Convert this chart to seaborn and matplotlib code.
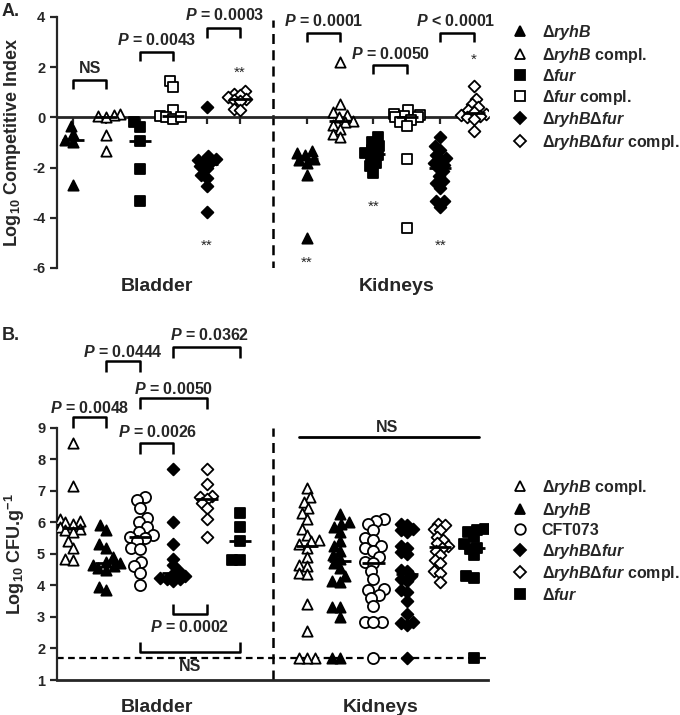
import numpy as np
import pandas as pd
import matplotlib
matplotlib.use("Agg")
import matplotlib.pyplot as plt
import seaborn as sns
from matplotlib.lines import Line2D

sns.set_theme(style="ticks")
plt.rcParams["font.family"] = ["Liberation Sans", "DejaVu Sans"]
plt.rcParams["font.weight"] = "bold"
plt.rcParams["mathtext.fontset"] = "custom"
plt.rcParams["mathtext.rm"] = "Liberation Sans:bold"
plt.rcParams["mathtext.it"] = "Liberation Sans:italic:bold"
plt.rcParams["mathtext.bf"] = "Liberation Sans:bold"
plt.rcParams["axes.linewidth"] = 1.6

# ---------------- data: panel A (log10 competitive index) ----------------
A_groups = ["ryhB", "ryhB compl.", "fur", "fur compl.", "ryhBfur", "ryhBfur compl."]
A_bladder_ryhB = [-0.35, -0.65, -0.9, -1.0, -2.7]
A_bladder_ryhB_compl = [0.12, 0.08, 0.05, 0.0, -0.7, -1.35]
A_bladder_fur = [-0.2, -0.4, -0.95, -2.05, -3.35]
A_bladder_fur_compl = [1.46, 1.2, 0.3, 0.05, 0.0, -0.05, 0.0]
A_bladder_ryhBfur = [0.4, -1.55, -1.65, -1.7, -1.75, -1.8, -1.95, -2.0, -2.3, -2.4, -2.75, -3.75]
A_bladder_ryhBfur_compl = [1.05, 0.95, 0.9, 0.8, 0.75, 0.7, 0.65, 0.35, 0.3]
A_kidney_ryhB = [-1.35, -1.4, -1.5, -1.65, -1.7, -1.8, -2.3, -4.8]
A_kidney_ryhB_compl = [2.2, 0.55, 0.2, 0.1, 0.0, -0.15, -0.2, -0.3, -0.45, -0.65, -0.8]
A_kidney_fur = [-0.8, -1.0, -1.15, -1.3, -1.4, -1.5, -1.6, -1.8, -1.95, -2.2]
A_kidney_fur_compl = [0.3, 0.15, 0.1, 0.05, 0.0, 0.0, -0.1, -0.2, -0.35, -1.65, -4.4]
A_kidney_ryhBfur = [-0.8, -1.15, -1.3, -1.5, -1.6, -1.7, -1.8, -1.9, -2.0, -2.15, -2.35,
                    -2.55, -2.6, -2.8, -3.35, -3.35, -3.55]
A_kidney_ryhBfur_compl = [1.25, 0.75, 0.55, 0.4, 0.3, 0.2, 0.15, 0.1, 0.05, 0.0, -0.05, -0.55]
A_yticks = [-6, -4, -2, 0, 2, 4]
A_labels = [r"$\Delta\mathit{ryhB}$", r"$\Delta\mathit{ryhB}$ compl.", r"$\Delta\mathit{fur}$",
            r"$\Delta\mathit{fur}$ compl.", r"$\Delta\mathit{ryhB}\Delta\mathit{fur}$",
            r"$\Delta\mathit{ryhB}\Delta\mathit{fur}$ compl."]

# ---------------- data: panel B (log10 CFU/g) ----------------
B_groups = ["ryhB compl.", "ryhB", "CFT073", "ryhBfur", "ryhBfur compl.", "fur"]
B_bladder_ryhB_compl = [8.5, 7.15, 6.1, 6.05, 6.0, 5.95, 5.85, 5.8, 5.75, 5.7, 5.4, 5.2, 4.85, 4.8]
B_bladder_ryhB = [5.9, 5.75, 5.3, 5.2, 4.9, 4.75, 4.7, 4.65, 4.6, 4.55, 4.5, 3.95, 3.85]
B_bladder_CFT073 = [6.8, 6.7, 6.45, 6.15, 6.0, 5.85, 5.7, 5.6, 5.55, 5.5, 5.4, 5.2, 5.15,
                    4.75, 4.6, 4.4, 4.0]
B_bladder_ryhBfur = [7.7, 6.0, 5.3, 4.85, 4.65, 4.45, 4.35, 4.3, 4.25, 4.2, 4.2, 4.15]
B_bladder_ryhBfur_compl = [7.7, 7.2, 6.85, 6.8, 6.75, 6.6, 6.45, 6.1, 5.55]
B_bladder_fur = [6.3, 5.85, 5.4, 4.82, 4.8]
B_kidney_ryhB_compl = [7.1, 6.8, 6.65, 6.45, 6.3, 6.1, 5.8, 5.6, 5.45, 5.4, 5.3, 5.2, 4.9, 4.65,
                       4.6, 4.4, 4.35, 3.4, 2.55, 1.7, 1.7, 1.7]
B_kidney_ryhB = [6.25, 6.0, 5.95, 5.85, 5.7, 5.4, 5.25, 5.1, 4.95, 4.85, 4.7, 4.55, 4.3, 4.15,
                 4.1, 3.3, 3.3, 3.0, 1.7, 1.7]
B_kidney_CFT073 = [6.1, 6.05, 5.95, 5.75, 5.5, 5.45, 5.25, 5.2, 5.1, 4.9, 4.75, 4.7, 4.45, 4.2,
                   3.9, 3.85, 3.7, 3.6, 3.35, 2.85, 2.85, 2.85, 1.7]
B_kidney_ryhBfur = [5.95, 5.9, 5.8, 5.75, 5.7, 5.25, 5.2, 5.05, 5.0, 4.5, 4.45, 4.3, 4.2, 4.15,
                    3.85, 3.8, 3.5, 3.1, 2.85, 2.8, 2.75, 1.7]
B_kidney_ryhBfur_compl = [5.95, 5.9, 5.8, 5.75, 5.55, 5.45, 5.35, 5.25, 5.2, 5.1, 4.95, 4.8,
                          4.7, 4.45, 4.4, 4.1]
B_kidney_fur = [5.8, 5.75, 5.7, 5.55, 5.3, 5.2, 5.15, 4.95, 4.3, 4.25, 1.7]
B_detection_limit = 1.7
B_yticks = [1, 2, 3, 4, 5, 6, 7, 8, 9]
B_labels = [r"$\Delta\mathit{ryhB}$ compl.", r"$\Delta\mathit{ryhB}$", "CFT073",
            r"$\Delta\mathit{ryhB}\Delta\mathit{fur}$",
            r"$\Delta\mathit{ryhB}\Delta\mathit{fur}$ compl.", r"$\Delta\mathit{fur}$"]

# marker styles: (marker, filled, size in pt)
STY = {
    "ryhB": ("^", True, 7.4), "ryhB compl.": ("^", False, 7.4),
    "fur": ("s", True, 7.0), "fur compl.": ("s", False, 7.0),
    "ryhBfur": ("D", True, 6.0), "ryhBfur compl.": ("D", False, 6.0),
    "CFT073": ("o", False, 8.0),
}
LAYOUT = 0.75

fig = plt.figure(figsize=(6.8, 7.15), dpi=100)
W, H = 680, 715
axA = fig.add_axes([57 / W, 1 - 268 / H, 431 / W, 251 / H])
axB = fig.add_axes([57 / W, 1 - 680 / H, 431 / W, 252.3 / H])
XL = (-0.48, 12.43)
bladder_pos = [0, 1, 2, 3, 4, 5]
kidney_pos = [7, 8, 9, 10, 11, 12]
swarms = []


def draw_group(ax, pos, vals, name):
    marker, filled, ms = STY[name]
    df = pd.DataFrame({"pos": np.full(len(vals), float(pos)), "val": vals})
    n0 = len(ax.collections)
    sns.swarmplot(data=df, x="pos", y="val", native_scale=True, orient="x", ax=ax,
                  marker=marker, size=ms * LAYOUT, color="black", linewidth=0,
                  zorder=3, warn_thresh=1)
    coll = ax.collections[n0]
    coll.set_facecolor("black" if filled else "white")
    coll.set_edgecolor("black")
    swarms.append((coll, ms))
    ax.hlines(np.median(vals), pos - 0.33, pos + 0.33, color="black", lw=2, zorder=4)


def bracket(ax, x1, x2, y, h, text, ty, tx=None, fs=11.5):
    ax.plot([x1, x1, x2, x2], [y - h, y, y, y - h], color="black", lw=1.8,
            clip_on=False, solid_capstyle="butt", zorder=5)
    ax.text((x1 + x2) / 2 if tx is None else tx, ty, text, ha="center", va="center",
            fontsize=fs, fontweight="bold", clip_on=False)


# ---------------- panel A ----------------
A_bladder = [A_bladder_ryhB, A_bladder_ryhB_compl, A_bladder_fur, A_bladder_fur_compl,
             A_bladder_ryhBfur, A_bladder_ryhBfur_compl]
A_kidney = [A_kidney_ryhB, A_kidney_ryhB_compl, A_kidney_fur, A_kidney_fur_compl,
            A_kidney_ryhBfur, A_kidney_ryhBfur_compl]
for g, p, v in zip(A_groups, bladder_pos, A_bladder):
    draw_group(axA, p, v, g)
for g, p, v in zip(A_groups, kidney_pos, A_kidney):
    draw_group(axA, p, v, g)

axA.set_xlim(*XL)
axA.set_ylim(-6, 4)
axA.spines["bottom"].set_position(("data", 0))
axA.spines["bottom"].set_linewidth(2)
axA.spines["right"].set_visible(False)
axA.spines["top"].set_visible(False)
axA.set_xticks(bladder_pos + kidney_pos)
axA.set_xticklabels([])
axA.set_yticks(A_yticks)
axA.set_yticklabels([str(t) for t in A_yticks])
axA.tick_params(axis="both", direction="out", length=5, width=1.6, labelsize=10.5)
axA.set_xlabel("")
axA.set_ylabel(r"Log$_{10}$ Competitive Index", fontsize=13, fontweight="bold")
axA.yaxis.set_label_coords(-0.078, 0.5)
axA.axvline(6, color="black", lw=1.8, ls=(0, (4, 2.5)), ymin=-0.01, ymax=0.99)

bracket(axA, 0, 1, 1.5, 0.37, "NS", 1.95)
bracket(axA, 2, 3, 2.6, 0.37, r"$\mathit{P}$ = 0.0043", 3.1)
bracket(axA, 4, 5, 3.55, 0.37, r"$\mathit{P}$ = 0.0003", 4.07, tx=4.55)
bracket(axA, 7, 8, 3.36, 0.37, r"$\mathit{P}$ = 0.0001", 3.84)
bracket(axA, 9, 10, 2.1, 0.37, r"$\mathit{P}$ = 0.0050", 2.54)
bracket(axA, 11, 12, 3.36, 0.37, r"$\mathit{P}$ < 0.0001", 3.84, tx=11.45)
for x, y, s in [(4, -5.1, "**"), (5, 1.78, "**"), (7, -5.8, "**"), (9, -3.55, "**"),
                (11, -5.1, "**"), (12, 2.28, "*")]:
    axA.text(x, y, s, ha="center", va="center", fontsize=11, fontweight="normal")
axA.text(2.5, -6.75, "Bladder", ha="center", va="center", fontsize=14, fontweight="bold")
axA.text(9.7, -6.75, "Kidneys", ha="center", va="center", fontsize=14, fontweight="bold")

# ---------------- panel B ----------------
B_bladder = [B_bladder_ryhB_compl, B_bladder_ryhB, B_bladder_CFT073, B_bladder_ryhBfur,
             B_bladder_ryhBfur_compl, B_bladder_fur]
B_kidney = [B_kidney_ryhB_compl, B_kidney_ryhB, B_kidney_CFT073, B_kidney_ryhBfur,
            B_kidney_ryhBfur_compl, B_kidney_fur]
for g, p, v in zip(B_groups, bladder_pos, B_bladder):
    draw_group(axB, p, v, g)
for g, p, v in zip(B_groups, kidney_pos, B_kidney):
    draw_group(axB, p, v, g)

axB.set_xlim(*XL)
axB.set_ylim(1, 9)
axB.spines["right"].set_visible(False)
axB.spines["top"].set_visible(False)
axB.spines["bottom"].set_linewidth(2)
axB.set_xticks([])
axB.set_yticks(B_yticks)
axB.set_yticklabels([str(t) for t in B_yticks])
axB.tick_params(axis="both", direction="out", length=5, width=1.6, labelsize=10.5)
axB.set_xlabel("")
axB.set_ylabel(r"Log$_{10}$ CFU.g$^{-1}$", fontsize=13, fontweight="bold")
axB.yaxis.set_label_coords(-0.07, 0.5)
axB.axvline(6, color="black", lw=1.8, ls=(0, (4, 2.5)))
axB.axhline(B_detection_limit, color="black", lw=1.6, ls=(0, (3, 2)), zorder=2)

bracket(axB, 0, 1, 9.35, 0.35, r"$\mathit{P}$ = 0.0048", 9.64)
bracket(axB, 1, 2, 11.11, 0.35, r"$\mathit{P}$ = 0.0444", 11.39)
bracket(axB, 3, 5, 11.57, 0.35, r"$\mathit{P}$ = 0.0362", 11.94, tx=4.1)
bracket(axB, 2, 4, 9.93, 0.35, r"$\mathit{P}$ = 0.0050", 10.23)
bracket(axB, 2, 3, 8.52, 0.35, r"$\mathit{P}$ = 0.0026", 8.87, tx=2.55)
bracket(axB, 3, 4, 3.09, -0.32, r"$\mathit{P}$ = 0.0002", 2.69)
bracket(axB, 2, 5, 1.9, -0.31, "NS", 1.42)
axB.plot([6.77, 12.15], [8.7, 8.7], color="black", lw=2, clip_on=False)
axB.text(9.4, 9.02, "NS", ha="center", va="center", fontsize=11.5, fontweight="bold")
axB.text(2.5, 0.14, "Bladder", ha="center", va="center", fontsize=14, fontweight="bold")
axB.text(9.2, 0.14, "Kidneys", ha="center", va="center", fontsize=14, fontweight="bold")


# ---------------- legends ----------------
def make_handles(groups):
    hs = []
    for g in groups:
        m, f, ms = STY[g]
        hs.append(Line2D([], [], marker=m, ls="none", mfc="black" if f else "white",
                         mec="black", mew=1.3, ms=ms * 0.95))
    return hs


legA = fig.legend(make_handles(A_groups), A_labels, loc="upper left",
                  bbox_to_anchor=(512 / W, 1 - 23 / H), frameon=False, borderpad=0,
                  borderaxespad=0, handlelength=1.0, handletextpad=0.85,
                  labelspacing=0.22, prop={"size": 11.5, "weight": "bold"})
legB = fig.legend(make_handles(B_groups), B_labels, loc="upper left",
                  bbox_to_anchor=(512 / W, 1 - 478 / H), frameon=False, borderpad=0,
                  borderaxespad=0, handlelength=1.0, handletextpad=0.85,
                  labelspacing=0.22, prop={"size": 11.5, "weight": "bold"})

fig.text(2 / W, 1 - 12 / H, "A.", fontsize=13, fontweight="bold", va="center")
fig.text(2 / W, 1 - 336 / H, "B.", fontsize=13, fontweight="bold", va="center")

# swarm layout is computed with compact sizes, then frozen and markers enlarged
fig.canvas.draw()
for coll, ms in swarms:
    if "draw" in coll.__dict__:
        del coll.__dict__["draw"]
    coll.set_sizes([ms ** 2])
    coll.set_linewidth(1.3)

fig.savefig("out.png", dpi=100)
